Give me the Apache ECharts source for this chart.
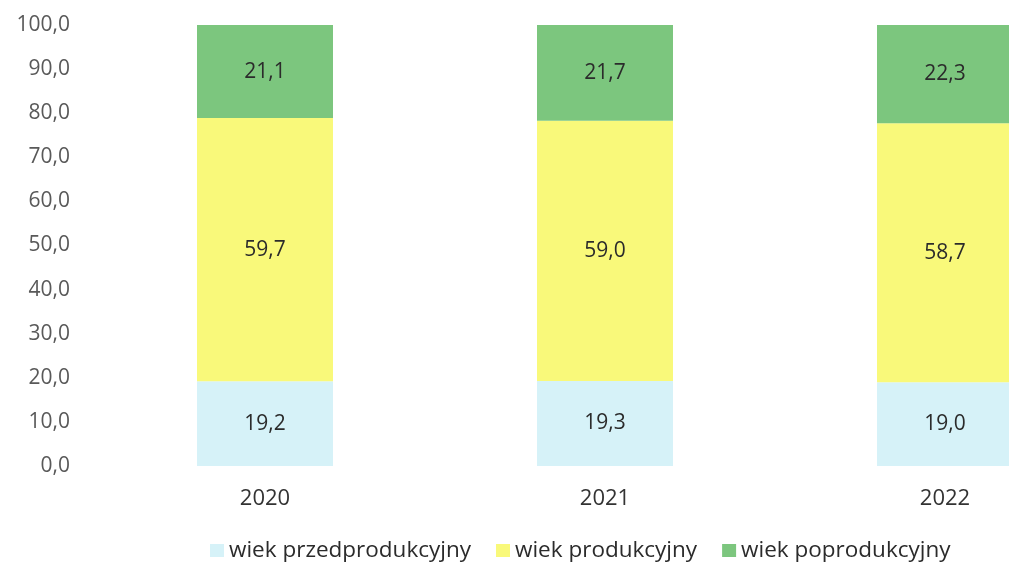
<!DOCTYPE html>
<html>
<head>
<meta charset="utf-8">
<script src="https://cdn.jsdelivr.net/npm/echarts@6/dist/echarts.min.js"></script>
<style>
  html, body { margin: 0; padding: 0; background: #fff; }
  #chart { width: 1009px; height: 563px; }
</style>
</head>
<body>
<div id="chart"></div>
<script>
// lata i udzial grup wieku (%)
var years = ['2020', '2021', '2022'];
var przedprodukcyjny = [19.2, 19.3, 19.0];
var produkcyjny = [59.7, 59.0, 58.7];
var poprodukcyjny = [21.1, 21.7, 22.3];

var font = '"Open Sans", Lato, sans-serif';

function fmt(v) {
  return v.toFixed(1).replace('.', ',');
}

function makeSeries(name, data, color) {
  return {
    name: name,
    type: 'bar',
    stack: 'total',
    barWidth: 136,
    data: data,
    itemStyle: { color: color },
    label: {
      show: true,
      position: 'inside',
      color: '#2b2b2b',
      fontFamily: font,
      fontSize: 21,
      formatter: function (p) { return fmt(p.value); }
    }
  };
}

var chart = echarts.init(document.getElementById('chart'));
chart.setOption({
  animation: false,
  backgroundColor: '#fff',
  grid: {
    left: 95,
    top: 25,
    width: 1020,
    height: 441,
    outerBoundsMode: 'none',
    containLabel: false
  },
  legend: {
    left: 205,
    top: 534,
    itemWidth: 14,
    itemHeight: 13,
    itemGap: 25,
    icon: 'rect',
    textStyle: { color: '#2b2b2b', fontFamily: font, fontSize: 22.5 },
    data: ['wiek przedprodukcyjny', 'wiek produkcyjny', 'wiek poprodukcyjny']
  },
  xAxis: {
    type: 'category',
    data: years,
    axisLine: { show: false },
    axisTick: { show: false },
    axisLabel: { color: '#333', fontFamily: font, fontSize: 22, margin: 22 }
  },
  yAxis: {
    type: 'value',
    min: 0,
    max: 100,
    interval: 10,
    splitLine: { show: false },
    axisLine: { show: false },
    axisTick: { show: false },
    axisLabel: {
      color: '#595959',
      fontFamily: font,
      fontSize: 21,
      margin: 25,
      formatter: function (v) { return fmt(v); }
    }
  },
  series: [
    makeSeries('wiek przedprodukcyjny', przedprodukcyjny, '#d6f2f8'),
    makeSeries('wiek produkcyjny', produkcyjny, '#f9f97a'),
    makeSeries('wiek poprodukcyjny', poprodukcyjny, '#7cc67e')
  ]
});
</script>
</body>
</html>
